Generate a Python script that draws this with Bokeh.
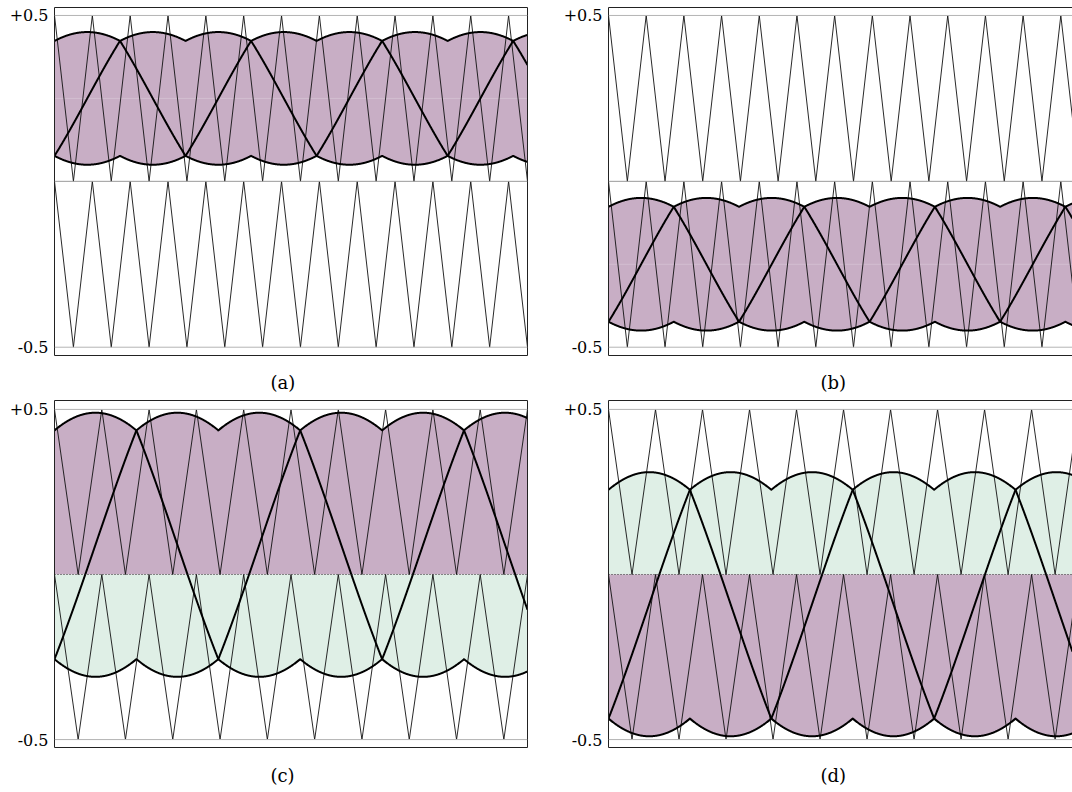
import numpy as np
from bokeh.plotting import figure
from bokeh.layouts import column, row
from bokeh.models import Range1d, LinearAxis, FixedTicker, Span
from bokeh.core.properties import value
from bokeh.embed import file_html
from bokeh.resources import INLINE

# ---- data ----
panel_names = ["(a)", "(b)", "(c)", "(d)"]
x_ends = [12.5, 12.31, 10.0, 9.87]          # visible span, in carrier periods
ref_centers = [0.25, -0.25, 0.09, -0.09]    # offset of the reference set
ref_halfspans = [0.20, 0.20, 0.40, 0.40]    # envelope peak half-range
fundamental_period = 10.39                  # reference period, in carrier periods
start_phase_deg = -30.0                     # phase at the left edge
upper_carrier_levels = [0.5, 0.0]           # peak, trough
lower_carrier_levels = [0.0, -0.5]
upper_fill = ["purple", "purple", "purple", "green"]
lower_fill = ["purple", "purple", "green", "purple"]
y_tick_values = [-0.5, 0.5]
y_tick_labels = ["-0.5", "+0.5"]

# ---- styles / layout ----
COLORS = {"purple": "#c8aec5", "green": "#dfefe6"}
SEAM = "#d3bfd0"
FONT = "DejaVu Serif"

sizes = [(560, 362), (512, 362), (560, 355), (512, 355)]
borders = [(7, 33, 7, 54), (7, 0, 7, 46), (1, 33, 7, 54), (1, 0, 7, 45)]
y_ranges = [(-0.525, 0.524), (-0.525, 0.524), (-0.524, 0.527), (-0.524, 0.527)]
cap_heights = [37, 37, 38, 38]
cap_px_x = [216, 214, 216, 215]   # caption left edge, px from frame left
cap_px_y = [20, 20, 21, 21]       # caption centre, px below strip top


def carrier(levels, x_end):
    xs = np.arange(0, np.ceil(x_end) + 0.5, 0.5)
    ys = np.where(np.isclose(xs % 1.0, 0.0), levels[0], levels[1])
    return xs, ys


def refs(center, half, x):
    amp = half / (np.sqrt(3) / 2)
    th = np.deg2rad(start_phase_deg) + 2 * np.pi * x / fundamental_period
    v = np.array([amp * np.sin(th - k * 2 * np.pi / 3) for k in range(3)])
    vz = -(v.max(axis=0) + v.min(axis=0)) / 2
    return center + v + vz


def bare_axis(ax):
    ax.ticker = FixedTicker(ticks=[])
    ax.major_label_text_font_size = "0px"
    ax.major_tick_out = 0
    ax.major_tick_in = 0
    ax.minor_tick_out = 0
    ax.minor_tick_in = 0
    ax.major_label_standoff = 0
    ax.axis_line_color = "#222222"
    ax.axis_line_width = 1


figs = []
caps = []
for i in range(4):
    w, h = sizes[i]
    bt, br, bb, bl = borders[i]
    y0, y1 = y_ranges[i]
    p = figure(width=w, height=h, output_backend="svg", toolbar_location=None, tools="",
               x_range=Range1d(0, x_ends[i]), y_range=Range1d(y0, y1),
               min_border_top=bt, min_border_right=br, min_border_bottom=bb,
               min_border_left=bl)
    p.outline_line_color = None
    p.grid.visible = False
    p.background_fill_color = "white"

    ya = p.yaxis[0]
    ya.ticker = FixedTicker(ticks=y_tick_values)
    ya.major_label_overrides = {v: t for v, t in zip(y_tick_values, y_tick_labels)}
    ya.major_tick_out = 0
    ya.major_tick_in = 0
    ya.minor_tick_out = 0
    ya.minor_tick_in = 0
    ya.major_label_standoff = 6
    ya.major_label_text_font = FONT
    ya.major_label_text_font_size = "16px"
    ya.major_label_text_color = "black"
    ya.axis_line_color = "#222222"
    bare_axis(p.xaxis[0])
    top = LinearAxis()
    bare_axis(top)
    p.add_layout(top, "above")
    if br > 0:
        rt = LinearAxis()
        bare_axis(rt)
        p.add_layout(rt, "right")

    x = np.linspace(0, x_ends[i], 1500)
    r = refs(ref_centers[i], ref_halfspans[i], x)
    top_env = r.max(axis=0)
    bot_env = r.min(axis=0)

    p.varea(x=x, y1=np.maximum(bot_env, 0), y2=np.maximum(top_env, 0),
            fill_color=COLORS[upper_fill[i]], fill_alpha=1)
    p.varea(x=x, y1=np.minimum(bot_env, 0), y2=np.minimum(top_env, 0),
            fill_color=COLORS[lower_fill[i]], fill_alpha=1)
    if i < 2:
        p.line(x=[0, x_ends[i]], y=[ref_centers[i]] * 2, line_color=SEAM, line_width=1)

    for lv in (0.5, -0.5):
        p.add_layout(Span(location=lv, dimension="width", line_color="#b4b4b4", line_width=1))
    if i < 2:
        p.add_layout(Span(location=0, dimension="width", line_color="#9a9a9a", line_width=1))
    else:
        p.add_layout(Span(location=0, dimension="width", line_color="#222222",
                          line_width=1, line_dash="1 2"))

    for lev in (upper_carrier_levels, lower_carrier_levels):
        cx, cy = carrier(lev, x_ends[i])
        p.line(x=cx, y=cy, line_color="#111111", line_width=0.9)

    for k in range(3):
        p.line(x=x, y=r[k], line_color="black", line_width=2, line_join="round")
    figs.append(p)

    # caption strip (pixel coordinates)
    ch = cap_heights[i]
    c = figure(width=w, height=ch, output_backend="svg", toolbar_location=None, tools="",
               x_range=Range1d(0, w), y_range=Range1d(0, ch),
               x_axis_location=None, y_axis_location=None,
               min_border=0, min_border_left=0, min_border_right=0,
               min_border_top=0, min_border_bottom=0)
    c.outline_line_color = None
    c.grid.visible = False
    c.text(x=[bl + cap_px_x[i]], y=[ch - cap_px_y[i]], text=[panel_names[i]],
           text_font=value(FONT), text_font_size="18px", text_color="black",
           text_align="left", text_baseline="middle")
    caps.append(c)

layout = column(row(figs[0], figs[1]), row(caps[0], caps[1]),
                row(figs[2], figs[3]), row(caps[2], caps[3]))
open("out.html", "w").write(file_html(layout, INLINE))
